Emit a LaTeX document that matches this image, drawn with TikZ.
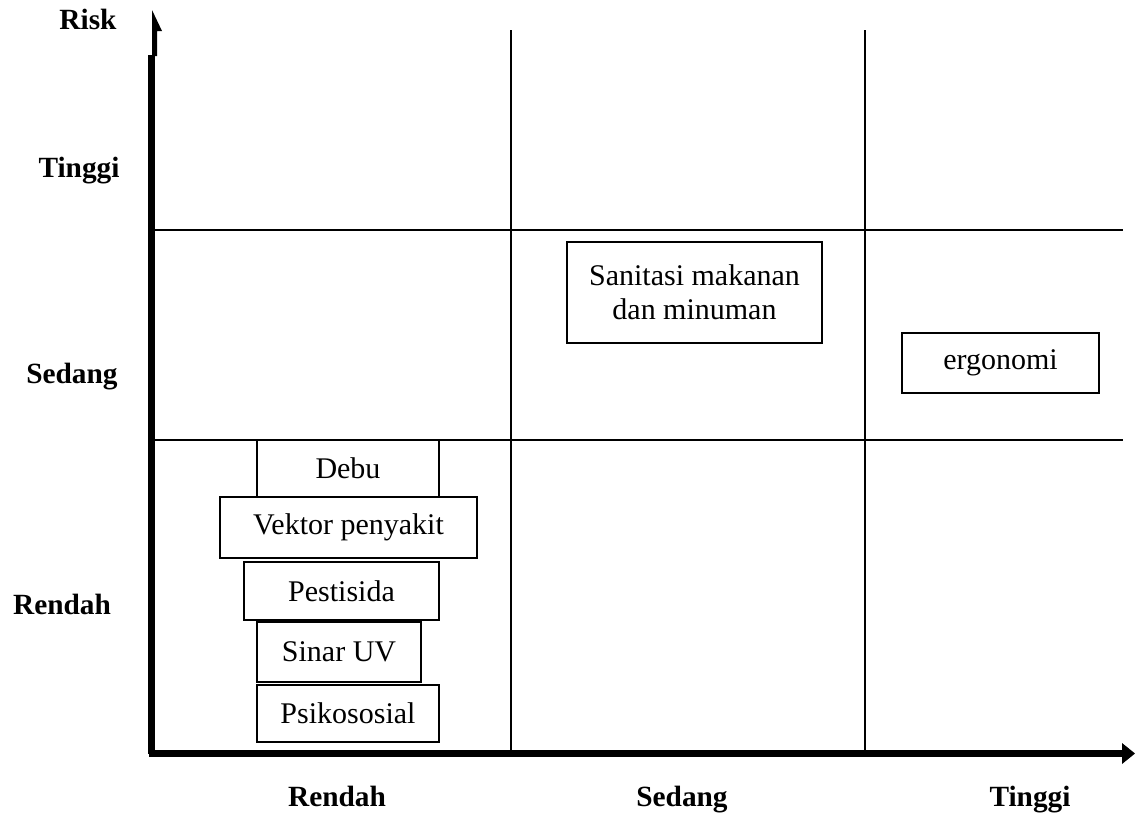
\documentclass[tikz,border=0pt]{standalone}
\usepackage{fontspec}
\setmainfont{Liberation Serif}
\begin{document}
\begin{tikzpicture}[x=0.75pt,y=-0.75pt,
  grid/.style={line width=1.1pt,black},
  itembox/.style 2 args={draw,line width=1.1pt,inner sep=0pt,align=center,
    minimum width=#1*0.75pt,minimum height=#2*0.75pt,
    font=\fontsize{22.5}{25.5}\selectfont},
  axlabel/.style={font=\fontsize{22}{26}\selectfont\bfseries,inner sep=0pt,anchor=base}]
\useasboundingbox (0,0) rectangle (1135,814);
% grid
\coordinate (v1t) at (511,30); \coordinate (v1b) at (511,752);
\coordinate (v2t) at (865,30); \coordinate (v2b) at (865,752);
\coordinate (h1l) at (155,230); \coordinate (h1r) at (1123,230);
\coordinate (h2l) at (155,440); \coordinate (h2r) at (1123,440);
\draw[grid] (v1t) -- (v1b);
\draw[grid] (v2t) -- (v2b);
\draw[grid] (h1l) -- (h1r);
\draw[grid] (h2l) -- (h2r);
% axes
\coordinate (origin) at (151.5,753.5);
\coordinate (ytop) at (151.5,55);
\coordinate (xstart) at (148.5,753.5);
\coordinate (xend) at (1122,753.5);
\draw[line width=4.6pt] (origin) -- (ytop);
\draw[line width=5pt] (xstart) -- (xend);
\fill (152,10) -- (162,31) -- (157,31) -- (157,56) -- (152,56) -- cycle;
\fill (1122,743) -- (1135,753.5) -- (1122,764) -- cycle;
% axis labels
\node[axlabel] (risk) at (88,29) {Risk};
\node[axlabel] (yt) at (79,177) {Tinggi};
\node[axlabel] (ys) at (72,383) {Sedang};
\node[axlabel] (yr) at (62,614) {Rendah};
\node[axlabel] (xr) at (337,806) {Rendah};
\node[axlabel] (xs) at (682,806) {Sedang};
\node[axlabel] (xt) at (1030,806) {Tinggi};
% boxes
\node[itembox={255}{101}] (san) at (694.5,292.5) {Sanitasi makanan\\dan minuman};
\node[itembox={197}{60}] (ergo) at (1000.5,363) {ergonomi};
\node[itembox={182}{57}] (debu) at (348,468.5) {Debu};
\node[itembox={257}{61}] (vek) at (348.5,527.5) {Vektor penyakit};
\node[itembox={195}{58}] (pes) at (341.5,591) {Pestisida};
\node[itembox={164}{60}] (uv) at (339,652) {Sinar UV};
\node[itembox={182}{57}] (psi) at (348,713.5) {Psikososial};
\end{tikzpicture}
\end{document}
